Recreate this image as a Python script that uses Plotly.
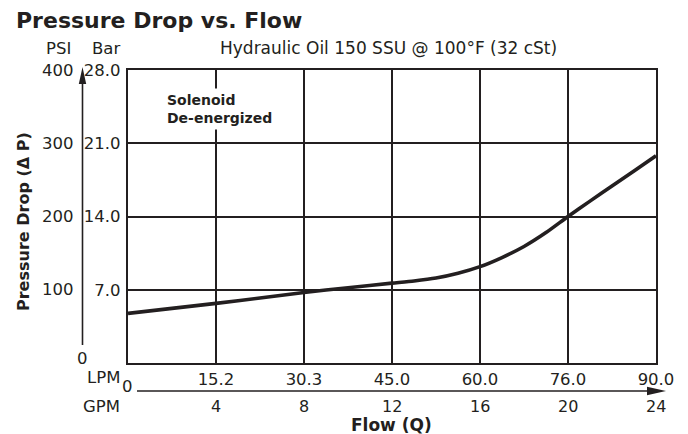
import plotly.graph_objects as go

# curve (flow in GPM, pressure drop in PSI)
flow_gpm = [0, 2, 4, 6, 8, 10, 12, 13, 14, 15, 16, 17, 18, 19, 20, 21, 22, 23, 24]
dp_psi = [67.8, 74.6, 81.4, 88.8, 96.2, 102.8, 109, 112, 116, 122.5, 131.5, 144, 159, 178, 200, 221, 241.5, 262, 283]

gpm_ticks = [4, 8, 12, 16, 20, 24]
lpm_labels = ['15.2', '30.3', '45.0', '60.0', '76.0', '90.0']
psi_ticks = [100, 200, 300, 400]
bar_labels = ['7.0', '14.0', '21.0', '28.0']

INK = '#231f20'
FONT = 'DejaVu Sans'

# the page body adds 8px around the figure
PAD = 8
FW, FH = 688 - PAD, 434 - PAD
# plot box in reference pixels
L, T, W, H = 128, 70, 528, 293
def px(x):
    return (x - L) / W
def py(y):
    return (T + H - y) / H

fig = go.Figure()
fig.add_trace(go.Scatter(x=flow_gpm, y=dp_psi, mode='lines',
                         line=dict(color=INK, width=3.6, shape='spline', smoothing=0.6),
                         hoverinfo='skip', showlegend=False))

ann = []
def txt(text, x, y, size=16.5, bold=False, xanchor='center', xref='paper', yref='paper', **kw):
    if bold:
        text = '<b>' + text + '</b>'
    ann.append(dict(text=text, x=x, y=y, xref=xref, yref=yref, xanchor=xanchor,
                    yanchor=kw.pop('yanchor', 'middle'), showarrow=False,
                    font=dict(family=FONT, size=size, color=INK), **kw))

txt('Pressure Drop vs. Flow', px(14), py(21), size=22, bold=True, xanchor='left')
txt('PSI', px(44), py(48), xanchor='left')
txt('Bar', px(90), py(48), xanchor='left')
txt('Hydraulic Oil 150 SSU @ 100°F (32 cSt)', px(388), py(48), size=17)

for v in psi_ticks:
    txt(str(v), px(76), v, xanchor='right', yref='y')
txt('0', px(82), py(358))

txt('LPM', px(122), py(377), xanchor='right')
txt('GPM', px(122), py(406), xanchor='right')
txt('0', px(127), py(386))
for v in gpm_ticks:
    txt(str(v), v, py(406), xref='x', size=16)
txt('Flow (Q)', px(391), py(424.5), size=17, bold=True)
txt('Pressure Drop (Δ P)', px(24), py(222), size=16, bold=True, textangle=-90)
txt('Solenoid<br>De-energized', px(163), py(88), size=14, bold=True, xanchor='left',
    yanchor='top', align='left', bgcolor='white', borderpad=3)

shapes = [
    # vertical arrow (pressure)
    dict(type='line', xref='paper', yref='paper', x0=px(82.5), x1=px(82.5), y0=py(345), y1=py(80),
         line=dict(color=INK, width=1.6)),
    dict(type='path', xref='paper', yref='paper',
         path='M %f %f L %f %f L %f %f Z' % (px(82.5), py(67), px(78.8), py(84), px(86.2), py(84)),
         fillcolor=INK, line=dict(width=0)),
    # horizontal arrow (flow)
    dict(type='line', xref='paper', yref='paper', x0=px(137), x1=px(650), y0=py(391), y1=py(391),
         line=dict(color=INK, width=1.6)),
    dict(type='path', xref='paper', yref='paper',
         path='M %f %f L %f %f L %f %f Z' % (px(666), py(391), px(647), py(386.8), px(647), py(395.2)),
         fillcolor=INK, line=dict(width=0)),
]

fig.update_layout(
    width=FW, height=FH,
    margin=dict(l=L - PAD, r=688 - L - W, t=T - PAD, b=434 - T - H),
    paper_bgcolor='white', plot_bgcolor='white',
    font=dict(family=FONT, size=16.5, color=INK),
    annotations=ann, shapes=shapes,
    xaxis=dict(range=[0, 24], tickvals=gpm_ticks, ticktext=lpm_labels,
               showgrid=True, gridcolor=INK, gridwidth=1.6, zeroline=False,
               showline=True, linecolor=INK, linewidth=2.2, mirror=True,
               ticks='', ticklabelstandoff=0, fixedrange=True),
    yaxis=dict(range=[0, 400], tickvals=psi_ticks, ticktext=bar_labels,
               showgrid=True, gridcolor=INK, gridwidth=1.6, zeroline=False,
               showline=True, linecolor=INK, linewidth=2.2, mirror=True,
               ticks='', ticklabelstandoff=2, fixedrange=True),
)

fig.write_html('out.html')
